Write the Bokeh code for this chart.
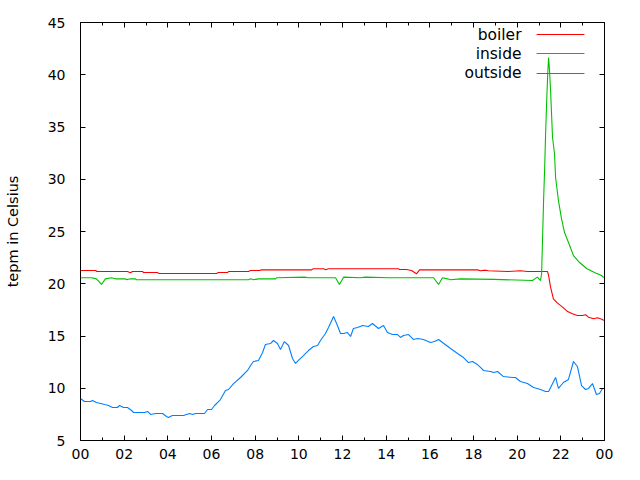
from bokeh.plotting import figure
from bokeh.models import Range1d, LinearAxis, FixedTicker, Label
from bokeh.embed import file_html
from bokeh.resources import INLINE

# ---- data (hours of day, degrees Celsius) ----
outside_h = [0.00, 0.18, 0.46, 0.55, 0.73, 0.92, 1.10, 1.28, 1.47, 1.69, 1.79, 1.97, 2.15, 2.34, 2.43,
             2.93, 3.07, 3.21, 3.44, 3.76, 3.94, 4.03, 4.21, 4.72, 4.85, 5.00, 5.13, 5.27, 5.68, 5.82,
             6.00, 6.14, 6.32, 6.41, 6.64, 6.78, 7.01, 7.33, 7.65, 7.79, 7.92, 8.15, 8.34, 8.47, 8.70,
             8.84, 9.02, 9.16, 9.34, 9.53, 9.71, 9.85, 9.98, 10.21, 10.44, 10.67, 10.86, 10.99, 11.22,
             11.36, 11.59, 11.73, 11.91, 12.05, 12.23, 12.37, 12.50, 12.69, 12.92, 13.19, 13.37, 13.65,
             13.88, 14.06, 14.29, 14.52, 14.66, 14.79, 15.02, 15.25, 15.44, 15.71, 16.03, 16.21, 16.40,
             16.58, 16.95, 17.27, 17.54, 17.77, 17.95, 18.18, 18.32, 18.46, 18.78, 18.92, 19.10, 19.37,
             19.79, 19.92, 20.15, 20.47, 20.75, 21.07, 21.30, 21.44, 21.76, 21.89, 22.12, 22.35, 22.58,
             22.76, 22.95, 23.13, 23.27, 23.45, 23.63, 23.77, 23.91]
outside_t = [9.02, 8.73, 8.73, 8.83, 8.64, 8.54, 8.44, 8.35, 8.16, 8.16, 8.35, 8.16, 8.16, 7.87, 7.68,
             7.68, 7.78, 7.49, 7.58, 7.58, 7.30, 7.20, 7.39, 7.39, 7.49, 7.58, 7.49, 7.58, 7.58, 7.97,
             7.97, 8.35, 8.73, 8.92, 9.78, 9.88, 10.45, 11.03, 11.70, 12.18, 12.56, 12.66, 13.42, 14.19, 14.28,
             14.57, 14.28, 13.71, 14.47, 14.09, 12.85, 12.37, 12.66, 13.13, 13.61, 14.00, 14.09, 14.57, 15.24,
             15.81, 16.87, 16.20, 15.24, 15.24, 15.33, 14.95, 15.72, 15.81, 16.00, 15.91, 16.20, 15.72,
             16.00, 15.33, 15.14, 15.14, 14.86, 15.05, 15.14, 14.67, 14.76, 14.67, 14.38, 14.47, 14.67,
             14.38, 13.80, 13.33, 12.94, 12.46, 12.56, 12.27, 11.99, 11.70, 11.60, 11.51, 11.60, 11.12,
             11.03, 11.03, 10.65, 10.45, 10.07, 9.88, 9.69, 9.69, 11.03, 9.98, 10.55, 10.84, 12.56,
             12.08, 10.26, 9.88, 9.98, 10.45, 9.40, 9.50, 9.98]

boiler_h = [0.00, 0.70, 0.75, 2.15, 2.29, 2.38, 2.84, 2.89, 3.53, 3.57, 6.23, 6.32, 6.74, 6.78, 7.69,
            7.79, 8.20, 8.29, 10.58, 10.67, 11.13, 11.22, 11.36, 14.57, 14.61, 14.93, 15.16, 15.39,
            15.53, 18.18, 18.32, 18.55, 18.69, 19.56, 20.15, 20.47, 21.39, 21.44, 21.53, 21.66, 21.85,
            22.08, 22.31, 22.53, 22.76, 22.99, 23.13, 23.27, 23.50, 23.68, 23.91, 23.96]
boiler_t = [21.27, 21.27, 21.17, 21.17, 21.05, 21.17, 21.17, 21.08, 21.08, 20.98, 20.98, 21.08, 21.08, 21.17, 21.17,
            21.27, 21.27, 21.33, 21.33, 21.43, 21.43, 21.33, 21.43, 21.43, 21.36, 21.36, 21.27, 20.95,
            21.33, 21.33, 21.24, 21.30, 21.24, 21.17, 21.24, 21.17, 21.17, 20.79, 19.67, 18.56, 18.14,
            17.76, 17.34, 17.12, 16.96, 16.96, 17.03, 16.80, 16.65, 16.74, 16.58, 16.48]

inside_h = [0.00, 0.50, 0.73, 0.96, 1.14, 1.42, 1.60, 2.06, 2.11, 2.29, 2.52, 2.56, 7.69, 7.79, 7.92,
            8.15, 8.93, 8.98, 10.30, 10.44, 11.68, 11.86, 12.05, 12.82, 13.05, 14.10, 16.17, 16.40,
            16.58, 16.81, 16.95, 17.40, 18.92, 20.70, 20.93, 21.07, 21.12, 21.17, 21.21, 21.26, 21.30,
            21.35, 21.40, 21.44, 21.48, 21.53, 21.62, 21.71, 21.76, 21.89, 22.03, 22.17, 22.35, 22.58,
            22.86, 23.18, 23.54, 23.86, 23.96]
inside_t = [20.57, 20.57, 20.47, 19.93, 20.47, 20.57, 20.47, 20.47, 20.38, 20.47, 20.47, 20.38, 20.38, 20.47, 20.38,
            20.47, 20.47, 20.57, 20.63, 20.57, 20.57, 19.93, 20.63, 20.57, 20.63, 20.57, 20.57, 19.93,
            20.57, 20.47, 20.38, 20.47, 20.42, 20.31, 20.63, 20.31, 20.98, 24.90, 27.97, 31.12, 34.19,
            37.34, 40.12, 41.65, 40.50, 38.49, 33.99, 32.46, 30.17, 27.97, 26.24, 24.90, 23.95, 22.70,
            22.03, 21.46, 21.08, 20.79, 20.60]

series_names = ["boiler", "inside", "outside"]
series_colors = ["#ff0000", "#00c000", "#0080ff"]

x_ticks = list(range(0, 25, 2))
x_minor = list(range(1, 24, 2))
x_tick_labels = ["00", "02", "04", "06", "08", "10", "12", "14", "16", "18", "20", "22", "00"]
y_ticks = list(range(5, 46, 5))
y_label = "tepm in Celsius"

FONT = "DejaVu Sans"
FS = "14px"

p = figure(width=640, height=480, output_backend="svg", toolbar_location=None,
           x_range=Range1d(0, 24), y_range=Range1d(5, 45),
           min_border_left=80, min_border_right=36, min_border_top=22, min_border_bottom=40,
           x_axis_location=None, y_axis_location=None)
p.grid.visible = False
p.outline_line_color = "black"
p.outline_line_width = 1
p.background_fill_color = "white"
p.border_fill_color = "white"

xt = FixedTicker(ticks=x_ticks, minor_ticks=x_minor)
yt = FixedTicker(ticks=y_ticks)

def style_axis(ax, labels=True):
    ax.axis_line_color = None
    ax.major_tick_in = 5
    ax.major_tick_out = 0
    ax.minor_tick_in = 3
    ax.minor_tick_out = 0
    ax.major_tick_line_color = "black"
    ax.minor_tick_line_color = "black"
    if labels:
        ax.major_label_text_font = FONT
        ax.major_label_text_font_size = FS
        ax.major_label_text_color = "black"
    else:
        ax.major_label_text_font_size = "0px"
        ax.major_label_text_alpha = 0

xb = LinearAxis(ticker=xt, major_label_overrides={t: l for t, l in zip(x_ticks, x_tick_labels)})
style_axis(xb)
xb.major_label_standoff = 8
p.add_layout(xb, "below")

xa = LinearAxis(ticker=xt)
style_axis(xa, labels=False)
p.add_layout(xa, "above")

yl = LinearAxis(ticker=yt, axis_label=y_label)
style_axis(yl)
yl.minor_tick_line_color = None
yl.major_label_standoff = 15
yl.axis_label_text_font = FONT
yl.axis_label_text_font_size = "14.5px"
yl.axis_label_text_font_style = "normal"
yl.axis_label_text_color = "black"
yl.axis_label_standoff = 24
p.add_layout(yl, "left")

yr = LinearAxis(ticker=yt)
style_axis(yr, labels=False)
yr.minor_tick_line_color = None
p.add_layout(yr, "right")

data = [(boiler_h, boiler_t), (inside_h, inside_t), (outside_h, outside_t)]
for (hx, ty), c in zip(data, series_colors):
    p.line(hx, ty, line_color=c, line_width=1.1)

# gnuplot-style key: label right-aligned, sample line to its right (positions in axis units)
key_text_x = 20.20
key_line_x0, key_line_x1 = 20.89, 23.08
key_rows_y = [43.85, 42.03, 40.12]
for name, c, ky in zip(series_names, series_colors, key_rows_y):
    p.add_layout(Label(x=key_text_x, y=ky, text=name, text_align="right", text_baseline="middle",
                       text_font=FONT, text_font_size="15.5px", text_color="black"))
    p.segment(x0=[key_line_x0], y0=[ky], x1=[key_line_x1], y1=[ky], line_color=c, line_width=1.1)

open("out.html", "w").write(file_html(p, INLINE))
